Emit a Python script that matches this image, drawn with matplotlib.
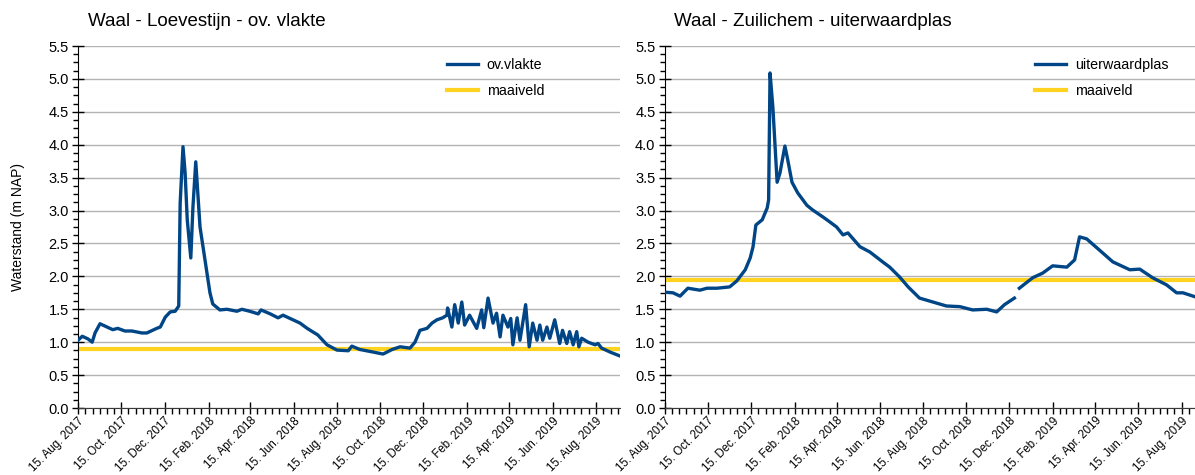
import numpy as np
import pandas as pd
import matplotlib
matplotlib.use('Agg')
import matplotlib.pyplot as plt
import matplotlib.dates as mdates
from matplotlib.ticker import MultipleLocator, AutoMinorLocator, FormatStrFormatter

plt.rcParams['font.family'] = ['Liberation Sans', 'DejaVu Sans']

# Waal - Loevestijn - ov. vlakte
loev_dates = [
    '2017-08-15', '2017-08-21', '2017-08-29', '2017-09-04', '2017-09-08', '2017-09-15',
    '2017-09-19', '2017-10-03', '2017-10-10', '2017-10-20', '2017-10-30', '2017-11-13',
    '2017-11-20', '2017-12-04', '2017-12-09', '2017-12-16', '2017-12-23', '2017-12-30',
    '2018-01-04', '2018-01-06', '2018-01-10', '2018-01-13', '2018-01-16', '2018-01-21',
    '2018-01-24', '2018-01-28', '2018-02-03', '2018-02-10', '2018-02-17', '2018-02-21',
    '2018-03-03', '2018-03-13', '2018-03-27', '2018-04-03', '2018-04-14', '2018-04-26',
    '2018-04-30', '2018-05-13', '2018-05-24', '2018-05-31', '2018-06-14', '2018-06-24',
    '2018-07-04', '2018-07-19', '2018-08-01', '2018-08-15', '2018-08-31', '2018-09-05',
    '2018-09-16', '2018-10-05', '2018-10-19', '2018-11-01', '2018-11-12', '2018-11-26',
    '2018-12-03', '2018-12-10', '2018-12-20', '2018-12-27', '2019-01-03', '2019-01-11',
    '2019-01-17', '2019-01-18', '2019-01-24', '2019-01-28', '2019-02-02', '2019-02-07',
    '2019-02-11', '2019-02-18', '2019-02-28', '2019-03-07', '2019-03-10', '2019-03-16',
    '2019-03-23', '2019-03-28', '2019-04-02', '2019-04-06', '2019-04-13', '2019-04-17',
    '2019-04-20', '2019-04-26', '2019-04-30', '2019-05-08', '2019-05-13', '2019-05-18',
    '2019-05-24', '2019-05-28', '2019-06-01', '2019-06-07', '2019-06-11', '2019-06-18',
    '2019-06-25', '2019-06-29', '2019-07-05', '2019-07-09', '2019-07-14', '2019-07-19',
    '2019-07-22', '2019-07-26', '2019-08-04', '2019-08-14', '2019-08-18', '2019-08-23',
    '2019-09-04', '2019-09-18',
]
loev_values = [
    1.03, 1.09, 1.05, 1.00, 1.14, 1.28,
    1.26, 1.19, 1.21, 1.17, 1.17, 1.14,
    1.14, 1.21, 1.23, 1.38, 1.46, 1.47,
    1.55, 3.11, 3.97, 3.57, 2.86, 2.28,
    3.05, 3.74, 2.75, 2.25, 1.75, 1.58,
    1.49, 1.50, 1.47, 1.50, 1.47, 1.43,
    1.49, 1.43, 1.37, 1.41, 1.34, 1.29,
    1.21, 1.11, 0.96, 0.88, 0.87, 0.94,
    0.89, 0.85, 0.82, 0.89, 0.93, 0.91,
    1.00, 1.18, 1.21, 1.29, 1.34, 1.37,
    1.41, 1.52, 1.23, 1.57, 1.29, 1.61,
    1.26, 1.41, 1.21, 1.49, 1.22, 1.67,
    1.29, 1.44, 1.08, 1.41, 1.23, 1.36,
    0.96, 1.37, 1.03, 1.57, 0.93, 1.29,
    1.03, 1.26, 1.03, 1.23, 1.06, 1.34,
    0.98, 1.18, 0.98, 1.16, 0.96, 1.16,
    0.93, 1.06, 1.00, 0.96, 0.98, 0.91,
    0.85, 0.79,
]
loev_maaiveld = 0.90

# Waal - Zuilichem - uiterwaardplas
zuil_dates = [
    '2017-08-15', '2017-08-27', '2017-09-06', '2017-09-17', '2017-10-04', '2017-10-14',
    '2017-10-28', '2017-11-15', '2017-11-25', '2017-12-07', '2017-12-14', '2017-12-18',
    '2017-12-22', '2017-12-31', '2018-01-07', '2018-01-09', '2018-01-11', '2018-01-15',
    '2018-01-21', '2018-01-25', '2018-02-01', '2018-02-05', '2018-02-11', '2018-02-19',
    '2018-03-04', '2018-03-12', '2018-03-27', '2018-04-05', '2018-04-15', '2018-04-24',
    '2018-05-01', '2018-05-18', '2018-06-01', '2018-06-19', '2018-06-29', '2018-07-13',
    '2018-07-25', '2018-08-10', '2018-08-29', '2018-09-17', '2018-10-06', '2018-10-24',
    '2018-11-13', '2018-11-27', '2018-12-08', '2018-12-22', '2018-12-25', '2018-12-29',
    '2019-01-17', '2019-01-31', '2019-02-14', '2019-03-06', '2019-03-17', '2019-03-24',
    '2019-04-03', '2019-04-21', '2019-05-10', '2019-06-03', '2019-06-17', '2019-07-05',
    '2019-07-25', '2019-08-08', '2019-08-17', '2019-09-03',
]
zuil_values = [
    1.76, 1.75, 1.70, 1.82, 1.79, 1.82,
    1.82, 1.84, 1.93, 2.10, 2.28, 2.45,
    2.78, 2.86, 3.04, 3.16, 5.09, 4.57,
    3.43, 3.57, 3.98, 3.77, 3.43, 3.27,
    3.08, 3.01, 2.90, 2.83, 2.75, 2.63,
    2.66, 2.45, 2.37, 2.22, 2.14, 1.99,
    1.84, 1.67, 1.61, 1.55, 1.54, 1.49,
    1.50, 1.46, 1.57, 1.67, np.nan, 1.82,
    1.98, 2.05, 2.16, 2.14, 2.25, 2.60,
    2.57, 2.40, 2.22, 2.10, 2.11, 1.98,
    1.87, 1.75, 1.75, 1.69,
]
zuil_maaiveld = 1.95

panels = [
    ('Waal - Loevestijn - ov. vlakte', 'ov.vlakte', loev_dates, loev_values, loev_maaiveld, '2019-09-18'),
    ('Waal - Zuilichem - uiterwaardplas', 'uiterwaardplas', zuil_dates, zuil_values, zuil_maaiveld, '2019-09-03'),
]

blue = '#004586'
yellow = '#ffd320'

fig = plt.figure(figsize=(11.95, 4.75), dpi=100)
W, H = 1195, 475
boxes = [(78, 620), (664.5, 1195)]
top, bottom = 46, 408

for i, (title, name, dates, values, maaiveld, xend) in enumerate(panels):
    x0, x1 = boxes[i]
    ax = fig.add_axes([x0 / W, 1 - bottom / H, (x1 - x0) / W, (bottom - top) / H])
    d = pd.to_datetime(dates)
    start, end = pd.Timestamp('2017-08-15'), pd.Timestamp(xend)

    ax.plot(d, values, color=blue, lw=2.4, solid_joinstyle='round', label=name, zorder=3)
    ax.plot([start, end], [maaiveld, maaiveld], color=yellow, lw=3.0, label='maaiveld', zorder=2)

    ax.set_xlim(start, end)
    ax.set_ylim(0, 5.5)
    ax.yaxis.set_major_locator(MultipleLocator(0.5))
    ax.yaxis.set_minor_locator(AutoMinorLocator(4))
    ax.yaxis.set_major_formatter(FormatStrFormatter('%.1f'))
    ax.xaxis.set_major_locator(mdates.MonthLocator(bymonth=[2, 4, 6, 8, 10, 12], bymonthday=15))
    ax.xaxis.set_minor_locator(mdates.MonthLocator(bymonthday=[5, 15, 25]))
    ax.xaxis.set_major_formatter(mdates.DateFormatter('%d. %b. %Y'))

    ax.grid(axis='y', color='#b3b3b3', lw=1.0, zorder=0)
    for s in ['top', 'right']:
        ax.spines[s].set_visible(False)
    ax.spines['left'].set_color('black')
    ax.spines['bottom'].set_color('#3a3a3a')

    ax.tick_params(axis='y', which='major', direction='inout', length=9, width=1, labelsize=10.5, pad=2)
    ax.tick_params(axis='y', which='minor', direction='out', length=3.5, width=1)
    ax.tick_params(axis='x', which='major', direction='inout', length=8, width=1, labelsize=8.3, pad=1)
    ax.tick_params(axis='x', which='minor', direction='out', length=4, width=1)
    for lbl in ax.get_xticklabels():
        lbl.set_rotation(45)
        lbl.set_ha('right')
        lbl.set_rotation_mode('anchor')

    fig.text((x0 + 10) / W, 1 - 22 / H, title, fontsize=13.5, va='center', ha='left')

    ax.legend(loc='upper left', bbox_to_anchor=(0.68 if i == 0 else 0.698, 0.968),
              frameon=False, fontsize=10.3, handlelength=2.2, handletextpad=0.6,
              labelspacing=0.85, borderpad=0, borderaxespad=0)

    if i == 0:
        ax.set_ylabel('Waterstand (m NAP)', fontsize=10)
        ax.yaxis.set_label_coords(-53 / (x1 - x0), 0.5)

fig.savefig('out.png', dpi=100)
